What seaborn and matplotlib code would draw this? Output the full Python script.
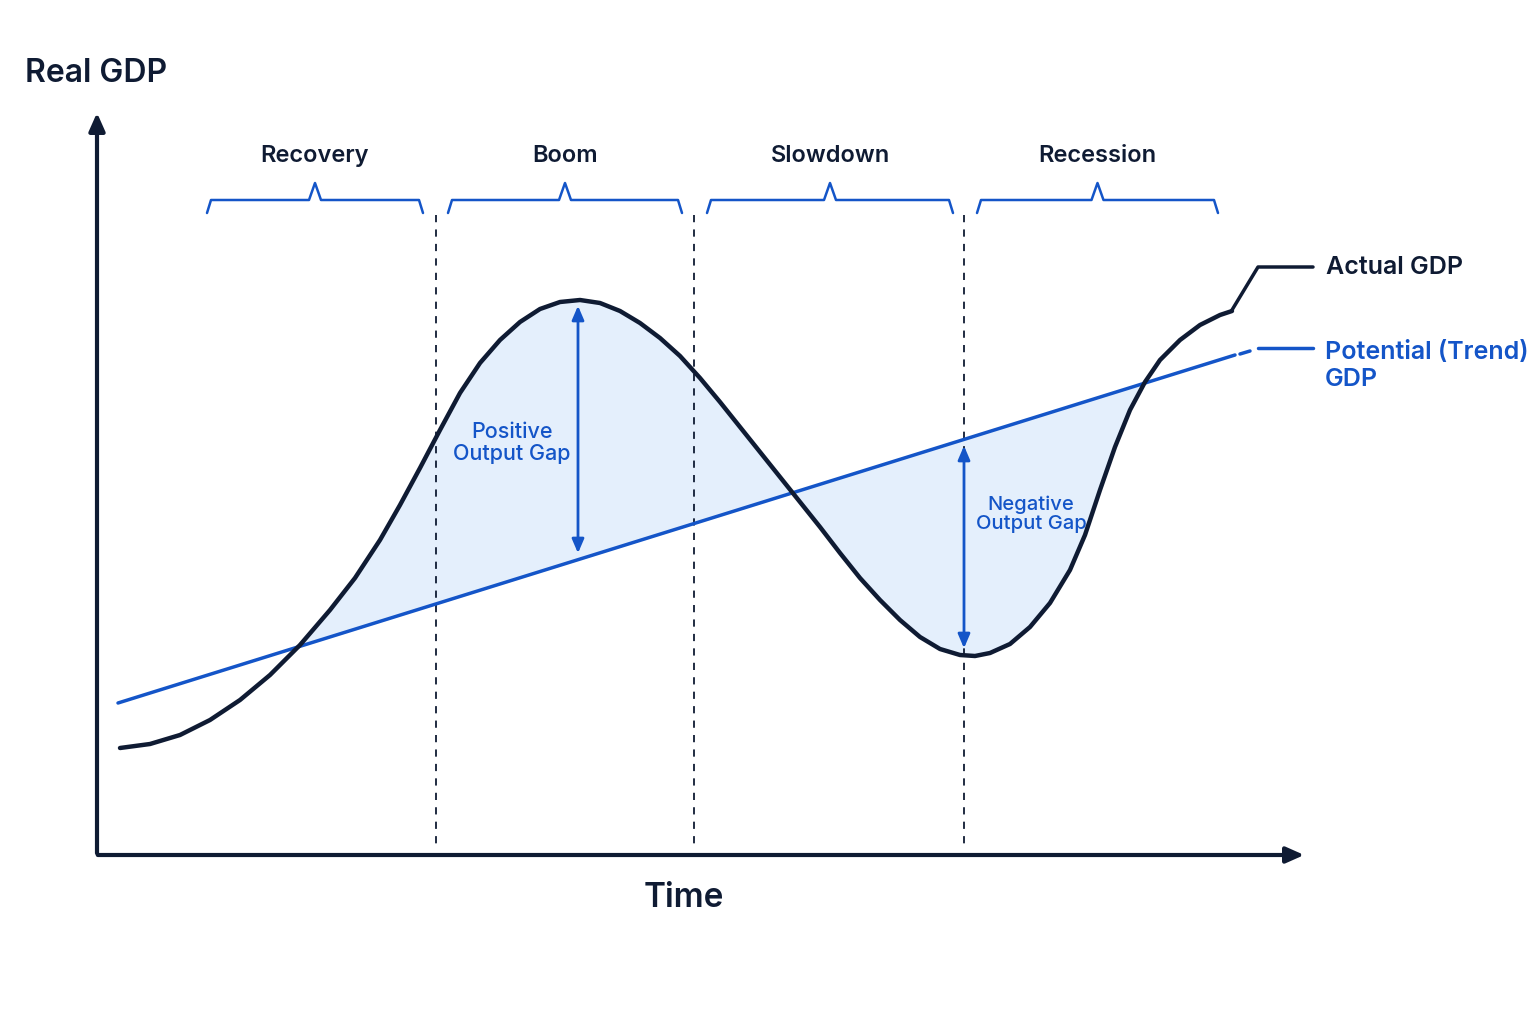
import numpy as np
import pandas as pd
import seaborn as sns
import matplotlib.pyplot as plt

sns.set_theme(style="white")
plt.rcParams['font.family'] = ['Inter', 'DejaVu Sans']

actual_t = [120,150,180,210,240,270,300,330,355,380,400,420,440,460,480,500,520,540,560,580,600,620,640,660,680,700,720,740,760,780,800,820,840,860,880,900,920,940,960,975,990,1010,1030,1050,1070,1085,1100,1115,1130,1145,1160,1180,1200,1220,1232]
actual_y = [748,744,735,720,700,675,645,610,578,540,505,468,430,393,363,340,322,309,302,300,303,311,323,338,356,378,402,427,452,477,502,527,553,578,600,620,637,649,655,656,653,644,627,603,570,535,490,447,410,382,360,340,325,315,311]
trend_t = [118,1235]
trend_y = [703,355]
phases = ["Recovery", "Boom", "Slowdown", "Recession"]
phase_spans = [(207,423),(448,682),(707,953),(977,1218)]
boundaries = [436,694,964]

H = 1024
dark = "#0f1b33"
blue = "#1455c8"

fig = plt.figure(figsize=(15.36,10.24), dpi=100)
ax = fig.add_axes([0,0,1,1])
ax.set_xlim(0,1536); ax.set_ylim(0,H); ax.axis("off")

df_a = pd.DataFrame({"t": actual_t, "gdp": [H-v for v in actual_y]})
df_p = pd.DataFrame({"t": trend_t, "gdp": [H-v for v in trend_y]})

trend_at = np.interp(df_a.t, df_p.t, df_p.gdp)
mask = (df_a.t >= 285) & (df_a.t <= 1150)
ax.fill_between(df_a.t, df_a.gdp, trend_at, where=mask, interpolate=True, color="#e3effc", alpha=0.95, zorder=1)

sns.lineplot(data=df_p, x="t", y="gdp", ax=ax, color=blue, lw=2.5, zorder=3)
sns.lineplot(data=df_a, x="t", y="gdp", ax=ax, color=dark, lw=3.2, zorder=4, sort=False)

ax.annotate("", xy=(97,H-110), xytext=(97,H-856), arrowprops=dict(arrowstyle="-|>,head_width=0.4,head_length=0.9", color=dark, lw=3))
ax.annotate("", xy=(1307,H-855), xytext=(95,H-855), arrowprops=dict(arrowstyle="-|>,head_width=0.4,head_length=0.9", color=dark, lw=3))
ax.text(25, H-73, "Real GDP", fontsize=23, fontweight="semibold", color=dark, va="center")
ax.text(684, H-898, "Time", fontsize=24, fontweight="semibold", color=dark, va="center", ha="center")

for b in boundaries:
    ax.plot([b,b],[H-215,H-845], ls=(0,(4,4)), color=dark, lw=1.3, zorder=2)

for name,(a,b) in zip(phases, phase_spans):
    m = (a+b)/2
    xs = [a, a+4, m-6, m, m+6, b-4, b]
    ys = [H-213, H-200, H-200, H-183, H-200, H-200, H-213]
    ax.plot(xs, ys, color=blue, lw=1.8)
    ax.text(m, H-156, name, fontsize=17, fontweight="semibold", color=dark, ha="center", va="center")

ax.annotate("", xy=(578,H-303), xytext=(578,H-556), arrowprops=dict(arrowstyle="<|-|>,head_width=0.3,head_length=0.7", color=blue, lw=2))
ax.annotate("", xy=(964,H-443), xytext=(964,H-651), arrowprops=dict(arrowstyle="<|-|>,head_width=0.3,head_length=0.7", color=blue, lw=2))
ax.text(512, H-443, "Positive\nOutput Gap", fontsize=15.5, fontweight="medium", color=blue, ha="center", va="center", linespacing=1.1)
ax.text(1031, H-514, "Negative\nOutput Gap", fontsize=14.5, fontweight="medium", color=blue, ha="center", va="center", linespacing=1.1)

ax.plot([1232,1258,1313],[H-310,H-267,H-267], color=dark, lw=2.5)
ax.text(1326, H-268, "Actual GDP", fontsize=18, fontweight="semibold", color=dark, va="center")
ax.plot([1240,1250],[H-354,H-351], color=blue, lw=2.5)
ax.plot([1258,1313],[H-348,H-348], color=blue, lw=2.5)
ax.text(1325, H-366, "Potential (Trend)\nGDP", fontsize=18, fontweight="semibold", color=blue, va="center", linespacing=1.2)

fig.savefig("out.png", dpi=100, facecolor="white")
